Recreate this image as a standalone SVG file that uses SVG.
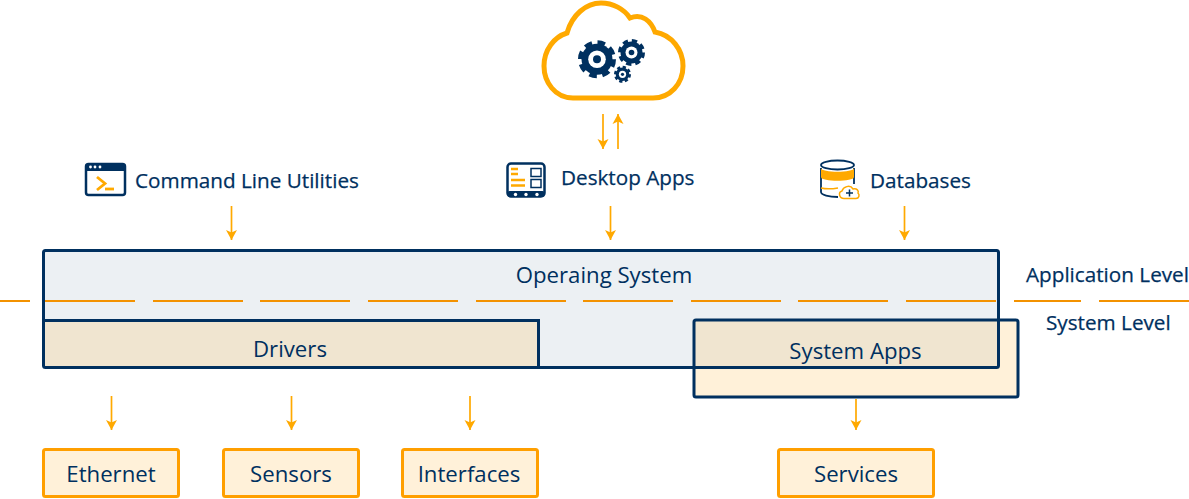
<svg xmlns="http://www.w3.org/2000/svg" width="1189" height="499" viewBox="0 0 1189 499">
<style>
text{font-family:"Open Sans","Liberation Sans",sans-serif;fill:#00305f}
.m{text-anchor:middle;font-size:22.2px}
.l{font-size:20.7px;font-weight:500;stroke:#00305f;stroke-width:.25}
.b{stroke:#00305f;stroke-width:3;fill:none}
.o{fill:#fff1d9;stroke:#ff9f00;stroke-width:3}
.a{stroke:#ffa900;stroke-width:1.7;fill:none;marker-end:url(#ah)}
.d{stroke:#f39200;stroke-width:2;fill:none}
.n{fill:#00305f}
.y{fill:#ffa900}
</style>
<defs>
<marker id="ah" markerUnits="userSpaceOnUse" markerWidth="12" markerHeight="12" refX="10" refY="5.500" viewBox="0 0 12 11" orient="auto"><path d="M0 0L10 5.500L0 11L2.500 5.500Z" fill="#ffa900"/></marker>
</defs>

<g id="cloud">
<path d="M573 98C555 98 544 82 544 66C544 50 554 37 567 33C572 15 586 3 601 3C613 3 624 9 630 18C642 13 651 21 655 32C672 35 683 50 683 66C683 84 670 98 653 98Z" fill="#fff" stroke="#ffa900" stroke-width="5"/>
<circle cx="597" cy="59.300" r="15.500" class="n"/><circle cx="597" cy="59.300" r="16.500" fill="none" stroke="#00305f" stroke-width="5" stroke-dasharray="7.500 5.460"/>
<circle cx="597" cy="59.300" r="8.800" fill="#fff"/><circle cx="597" cy="59.300" r="4" class="n"/>
<circle cx="631.500" cy="52.500" r="11" class="n"/><circle cx="631.500" cy="52.500" r="11.500" fill="none" stroke="#00305f" stroke-width="4" stroke-dasharray="5.200 3.830"/>
<circle cx="631.500" cy="52.500" r="6" fill="#fff"/><circle cx="631.500" cy="52.500" r="2.800" class="n"/>
<circle cx="622.500" cy="74.300" r="6.800" class="n"/><circle cx="622.500" cy="74.300" r="7.200" fill="none" stroke="#00305f" stroke-width="2.600" stroke-dasharray="3.200 2.450"/>
<circle cx="622.500" cy="74.300" r="3.600" fill="#fff"/><circle cx="622.500" cy="74.300" r="1.600" class="n"/>
</g>

<g id="command-line">
<rect x="86" y="164" width="39" height="31" rx="2.500" fill="#fff" stroke="#00305f" stroke-width="2.500"/>
<rect x="86" y="164" width="39" height="7" class="n"/>
<circle cx="90.500" cy="167" r="1.400" fill="#fff"/><circle cx="95" cy="167" r="1.400" fill="#fff"/><circle cx="100" cy="167" r="1.400" fill="#fff"/>
<path d="M97 177L105 183.500L97 190" fill="none" stroke="#ffa900" stroke-width="2.800"/>
<path d="M105 189H114" fill="none" stroke="#ffa900" stroke-width="2.800"/>
<text class="l" x="135" y="188">Command Line Utilities</text>
</g>

<g id="desktop-apps">
<rect x="507.500" y="163.500" width="37" height="33" rx="3.500" fill="#fff" stroke="#00305f" stroke-width="2.500"/>
<rect x="507.500" y="191" width="37" height="6" rx="2" class="n"/>
<circle cx="515.500" cy="194.500" r="1.700" fill="#fff"/><circle cx="526" cy="194.500" r="1.700" fill="#fff"/><circle cx="537" cy="194.500" r="1.700" fill="#fff"/>
<path d="M511 169H518M511 174H518M511 180H525M511 185.500H525" fill="none" stroke="#ffa900" stroke-width="2.500"/>
<rect x="531" y="168.500" width="10" height="8" fill="none" stroke="#00305f" stroke-width="1.500"/>
<rect x="531" y="179.500" width="10" height="8" fill="none" stroke="#00305f" stroke-width="1.500"/>
<text class="l" x="561" y="185">Desktop Apps</text>
</g>

<g id="databases">
<path d="M821 168V192C821 195 829 197 838 197" fill="none" stroke="#00305f" stroke-width="1.800"/>
<path d="M854 168V184" fill="none" stroke="#00305f" stroke-width="1.800"/>
<path d="M821 168C821 173 854 173 854 168V177C854 182 821 182 821 177Z" class="y"/>
<ellipse cx="837.500" cy="165" rx="16.500" ry="4.500" fill="#fff" stroke="#00305f" stroke-width="1.800"/>
<path d="M821 188C825 189 832 189 838 188" fill="none" stroke="#ffa900" stroke-width="1.500"/>
<path d="M844 198.500C839 198.500 838 192 842 191C843 187 850 184 853 189C857 188 859 191 858 193C860 195 859 198.500 856 198.500Z" fill="#fff" stroke="#ffa900" stroke-width="1.500"/>
<path d="M846 193H853M849.500 189.500V196.500" fill="none" stroke="#00305f" stroke-width="1.500"/>
<text class="l" x="870" y="188">Databases</text>
</g>

<g id="operating-system">
<rect x="43.500" y="250.500" width="955" height="117" rx="2" fill="#ecf0f3"/>
<text class="m" x="604" y="283">Operaing System</text>
</g>

<g id="levels">
<path class="d" d="M0 301H30M45 301H135M153 301H243M260 301H350M368 301H458M476 301H566M583 301H673M691 301H781M798 301H888M906 301H996M1014 301H1081M1099 301H1189"/>
<text class="l" x="1026" y="282">Application Level</text>
<text class="l" x="1046" y="330">System Level</text>
</g>

<g id="drivers">
<rect x="43.500" y="320.500" width="495" height="47" fill="#f0e5d0"/>
<path class="b" d="M43.500 320.500H538.500V367"/>
<text class="m" x="290" y="357">Drivers</text>
</g>

<g id="system-apps">
<rect x="694" y="320" width="324" height="77" rx="2" fill="#fff1d9"/>
<rect x="694" y="320" width="304.500" height="47.500" fill="#f0e5d0"/>
<text class="m" x="855.500" y="359">System Apps</text>
</g>

<rect class="b" x="43.500" y="250.500" width="955" height="117" rx="2"/>
<rect x="694" y="320" width="324" height="77" rx="2" fill="none" stroke="#00305f" stroke-width="3"/>

<g id="connectors">
<path class="a" d="M603 114V149"/>
<path class="a" d="M618 149V114"/>
<path class="a" d="M231.500 206V240"/>
<path class="a" d="M610.500 206V240"/>
<path class="a" d="M904.500 206V240"/>
<path class="a" d="M111.500 396V430"/>
<path class="a" d="M291.500 396V430"/>
<path class="a" d="M470 396V430"/>
<path class="a" d="M856 399V430"/>
</g>

<g id="ethernet"><rect class="o" x="43.500" y="449.500" width="135" height="47" rx="2"/><text class="m" x="111" y="482">Ethernet</text></g>
<g id="sensors"><rect class="o" x="223.500" y="449.500" width="135" height="47" rx="2"/><text class="m" x="291" y="482">Sensors</text></g>
<g id="interfaces"><rect class="o" x="402.500" y="449.500" width="135" height="47" rx="2"/><text class="m" x="469" y="482">Interfaces</text></g>
<g id="services"><rect class="o" x="778.500" y="449.500" width="155" height="47" rx="2"/><text class="m" x="856" y="482">Services</text></g>
</svg>
